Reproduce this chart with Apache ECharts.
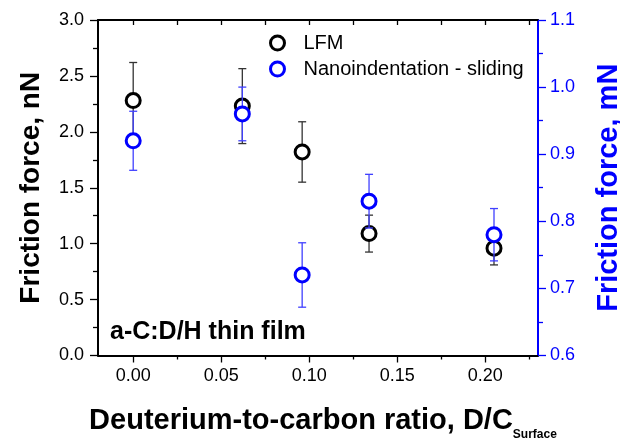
<!DOCTYPE html>
<html><head><meta charset="utf-8">
<script src="https://cdn.jsdelivr.net/npm/echarts@6/dist/echarts.min.js"></script>
<style>html,body{margin:0;padding:0;background:#fff}#c{width:620px;height:442px}</style>
</head><body><div id="c"></div>
<script>
// ---- data ----
const dcRatio   = [0.000, 0.062, 0.096, 0.134, 0.205];
const lfmForce  = [2.28, 2.23, 1.82, 1.09, 0.96];   // nN (left axis)
const lfmError  = [0.34, 0.335, 0.27, 0.165, 0.15];
const nanoForce = [0.92, 0.96, 0.72, 0.83, 0.78];   // mN (right axis)
const nanoError = [0.044, 0.040, 0.048, 0.040, 0.039];
const xTickValues      = [0.00, 0.05, 0.10, 0.15, 0.20];
const xMinorTickValues = [0.025, 0.075, 0.125, 0.175, 0.225];
const seriesNames = ['LFM', 'Nanoindentation - sliding'];
const annotationText = 'a-C:D/H thin film';

const FONT = 'Liberation Sans, Arial, Helvetica, sans-serif';
const BLUE = '#0000ff';

function errBarData(xs, ys, es) {
  return xs.map((x, i) => [x, ys[i] - es[i], ys[i] + es[i]]);
}
function errBarRender(color) {
  return function (params, api) {
    const x = api.value(0);
    const lo = api.coord([x, api.value(1)]);
    const hi = api.coord([x, api.value(2)]);
    const cap = 4;
    const st = { stroke: color, lineWidth: 1.3 };
    return {
      type: 'group',
      children: [
        { type: 'line', shape: { x1: lo[0], y1: lo[1], x2: hi[0], y2: hi[1] }, style: st },
        { type: 'line', shape: { x1: lo[0] - cap, y1: lo[1], x2: lo[0] + cap, y2: lo[1] }, style: st },
        { type: 'line', shape: { x1: hi[0] - cap, y1: hi[1], x2: hi[0] + cap, y2: hi[1] }, style: st }
      ]
    };
  };
}

const chart = echarts.init(document.getElementById('c'), null, { renderer: 'canvas' });
const xRange = { min: -0.02, max: 0.23 };
chart.setOption({
  animation: false,
  backgroundColor: '#fff',
  textStyle: { fontFamily: FONT },
  grid: { left: 98, right: 82, top: 20, bottom: 86.5, containLabel: false, outerBoundsMode: 'none' },
  legend: {
    data: seriesNames,
    orient: 'vertical',
    left: 264, top: 28,
    itemWidth: 42, itemHeight: 14, itemGap: 6,
    icon: 'circle',
    itemStyle: { borderWidth: 3 },
    textStyle: { fontSize: 20, color: '#000', fontFamily: FONT, lineHeight: 19 }
  },
  graphic: [{
    type: 'text', left: 110, top: 320,
    style: { text: annotationText, font: 'bold 25px ' + FONT, fill: '#000' }
  }],
  xAxis: [
    {
      type: 'value', position: 'bottom', ...xRange,
      axisLine: { show: true, onZero: false, lineStyle: { color: '#000', width: 2 } },
      axisTick: { show: true, inside: false, length: 7, customValues: xTickValues, lineStyle: { color: '#000', width: 1.3 } },
      axisLabel: { show: true, customValues: xTickValues, formatter: v => v.toFixed(2), fontSize: 18, color: '#000', margin: 12, fontFamily: FONT },
      splitLine: { show: false },
      name: '{a|Deuterium-to-carbon ratio, D/C}{b|Surface}',
      nameLocation: 'middle', nameGap: 45.5,
      nameTextStyle: {
        padding: [0, 0, 0, 10],
        rich: {
          a: { fontSize: 29, fontWeight: 'bold', color: '#000', fontFamily: FONT, lineHeight: 40 },
          b: { fontSize: 12, fontWeight: 'bold', color: '#000', fontFamily: FONT, lineHeight: 12, verticalAlign: 'bottom' }
        }
      }
    },
    {
      type: 'value', position: 'bottom', ...xRange,
      axisLine: { show: false },
      axisTick: { show: true, inside: false, length: 4, customValues: xMinorTickValues, lineStyle: { color: '#000', width: 1.3 } },
      axisLabel: { show: false },
      splitLine: { show: false }
    },
    {
      type: 'value', position: 'top', ...xRange,
      axisLine: { show: true, onZero: false, lineStyle: { color: '#000', width: 2 } },
      axisTick: { show: true, inside: true, length: 5, customValues: xTickValues.concat(xMinorTickValues), lineStyle: { color: '#000', width: 1.3 } },
      axisLabel: { show: false },
      splitLine: { show: false }
    }
  ],
  yAxis: [
    {
      type: 'value', position: 'left', min: 0, max: 3, interval: 0.5,
      axisLine: { show: true, onZero: false, lineStyle: { color: '#000', width: 2 } },
      axisTick: { show: true, inside: false, length: 8, lineStyle: { color: '#000', width: 1.3 } },
      minorTick: { show: true, splitNumber: 2, length: 5, lineStyle: { color: '#000', width: 1.3 } },
      axisLabel: { formatter: v => v.toFixed(1), fontSize: 18, color: '#000', margin: 14, fontFamily: FONT },
      splitLine: { show: false },
      name: 'Friction force, nN', nameLocation: 'middle', nameRotate: 90, nameGap: 53,
      nameTextStyle: { fontSize: 28, fontWeight: 'bold', color: '#000', fontFamily: FONT }
    },
    {
      type: 'value', position: 'right', min: 0.6, max: 1.1, interval: 0.1,
      axisLine: { show: true, onZero: false, lineStyle: { color: BLUE, width: 2 } },
      axisTick: { show: true, inside: false, length: 8, lineStyle: { color: BLUE, width: 1.3 } },
      minorTick: { show: true, splitNumber: 2, length: 5, lineStyle: { color: BLUE, width: 1.3 } },
      axisLabel: { formatter: v => v.toFixed(1), fontSize: 18, color: BLUE, margin: 12, fontFamily: FONT },
      splitLine: { show: false },
      name: 'Friction force, mN', nameLocation: 'middle', nameRotate: 90, nameGap: 56,
      nameTextStyle: { fontSize: 29, fontWeight: 'bold', color: BLUE, fontFamily: FONT }
    }
  ],
  series: [
    {
      type: 'custom', name: 'lfmErr', xAxisIndex: 0, yAxisIndex: 0, z: 2,
      renderItem: errBarRender('#333333'),
      encode: { x: 0, y: [1, 2] },
      data: errBarData(dcRatio, lfmForce, lfmError)
    },
    {
      type: 'scatter', name: seriesNames[0], xAxisIndex: 0, yAxisIndex: 0, z: 3,
      symbol: 'circle', symbolSize: 14,
      itemStyle: { color: '#fff', borderColor: '#000', borderWidth: 3, opacity: 1 },
      data: dcRatio.map((x, i) => [x, lfmForce[i]])
    },
    {
      type: 'custom', name: 'nanoErr', xAxisIndex: 0, yAxisIndex: 1, z: 4,
      renderItem: errBarRender('#4040ff'),
      encode: { x: 0, y: [1, 2] },
      data: errBarData(dcRatio, nanoForce, nanoError)
    },
    {
      type: 'scatter', name: seriesNames[1], xAxisIndex: 0, yAxisIndex: 1, z: 5,
      symbol: 'circle', symbolSize: 14,
      itemStyle: { color: '#fff', borderColor: BLUE, borderWidth: 3, opacity: 1 },
      data: dcRatio.map((x, i) => [x, nanoForce[i]])
    }
  ]
});
</script></body></html>
